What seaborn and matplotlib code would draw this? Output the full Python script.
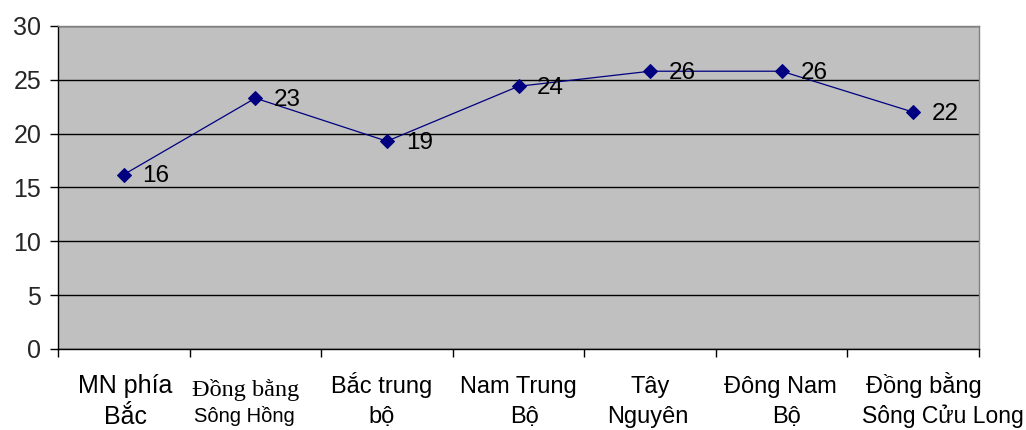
import matplotlib
matplotlib.use("Agg")
import matplotlib.pyplot as plt
import seaborn as sns
import pandas as pd
import numpy as np

# Regions (two text lines each) and their values
region_line1 = ["MN phía", "Đồng bằng", "Bắc trung", "Nam Trung", "Tây", "Đông Nam", "Đồng bằng"]
region_line2 = ["Bắc", "Sông Hồng", "bộ", "Bộ", "Nguyên", "Bộ", "Sông Cửu Long"]
values = [16.2, 23.3, 19.3, 24.4, 25.8, 25.8, 22.0]
y_ticks = [0, 5, 10, 15, 20, 25, 30]

sns.set_theme(style="white")
plt.rcParams["font.family"] = ["Liberation Sans", "DejaVu Sans"]

df = pd.DataFrame({"pos": np.arange(len(values)), "value": values})

DPI = 100
PT = 72 / DPI  # points per pixel

fig = plt.figure(figsize=(10.26, 4.30), dpi=DPI)
ax = fig.add_axes([58 / 1026, 1 - 349 / 430, (979 - 58) / 1026, (349 - 26) / 430])
ax.set_facecolor("#C0C0C0")

sns.lineplot(data=df, x="pos", y="value", ax=ax, color="#000080",
             marker="D", markersize=7, markeredgecolor="#000080",
             linewidth=0.9, zorder=3)

# data labels
for x, v in zip(df["pos"], df["value"]):
    ax.annotate(f"{v:.0f}", xy=(x, v), xytext=(13.5, -1), textcoords="offset points",
                ha="left", va="center", fontsize=17.5, color="black", zorder=4)

ax.set_xlim(-0.5, len(values) - 0.5)
ax.set_ylim(0, 30)
ax.set_yticks(y_ticks)
ax.set_yticklabels([str(t) for t in y_ticks], fontsize=18)
ax.yaxis.grid(True, color="black", linewidth=1.0)
ax.set_axisbelow(True)

# tick marks sit on the boundaries between categories
ax.set_xticks(np.arange(-0.5, len(values), 1.0))
ax.set_xticklabels([])
ax.tick_params(axis="x", which="major", direction="out", length=6, width=1,
               color="black", bottom=True)
ax.tick_params(axis="y", direction="out", length=6, width=1, color="black",
               left=True, pad=6)

# category labels, one text per line, placed below each category center
# (dx in pixels, baseline depth below the axis in pixels, font settings)
line1_style = [
    dict(dx=1, size=18, family=None),
    dict(dx=-10, size=17.5, family=["Liberation Serif", "DejaVu Serif"]),
    dict(dx=-5, size=17, family=None),
    dict(dx=0, size=17, family=None),
    dict(dx=0, size=17, family=None),
    dict(dx=-1, size=17, family=None),
    dict(dx=11, size=17, family=None),
]
line2_style = [
    dict(dx=2, size=18, ha="center"),
    dict(dx=-11, size=14.5, ha="center"),
    dict(dx=-5, size=17, ha="center"),
    dict(dx=6, size=17, ha="center"),
    dict(dx=-2, size=17, ha="center"),
    dict(dx=5, size=17, ha="center"),
    dict(dx=-51, size=16.5, ha="left"),
]
line1_depth = [44, 47, 44, 44, 44, 44, 44]
line2_depth = [75, 73, 74, 74, 74, 74, 74]

for i, (t1, t2) in enumerate(zip(region_line1, region_line2)):
    s1, s2 = line1_style[i], line2_style[i]
    kw1 = dict(fontsize=s1["size"])
    if s1["family"]:
        kw1["family"] = s1["family"]
    ax.annotate(t1, xy=(i, 0), xycoords=("data", "axes fraction"),
                xytext=(s1["dx"] * PT, -line1_depth[i] * PT), textcoords="offset points",
                ha="center", va="baseline", color="black", annotation_clip=False, **kw1)
    ax.annotate(t2, xy=(i, 0), xycoords=("data", "axes fraction"),
                xytext=(s2["dx"] * PT, -line2_depth[i] * PT), textcoords="offset points",
                ha=s2["ha"], va="baseline", color="black", fontsize=s2["size"],
                annotation_clip=False)

for side in ["left", "bottom"]:
    ax.spines[side].set_color("black")
    ax.spines[side].set_linewidth(1)
for side in ["top", "right"]:
    ax.spines[side].set_color("#808080")
    ax.spines[side].set_linewidth(1)

ax.set_xlabel("")
ax.set_ylabel("")

fig.savefig("out.png", dpi=DPI, facecolor="white")
